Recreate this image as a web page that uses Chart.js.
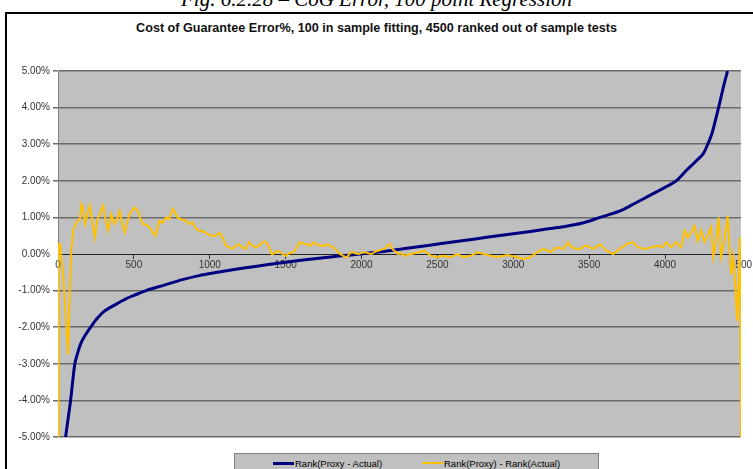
<!DOCTYPE html>
<html><head><meta charset="utf-8">
<script src="https://cdn.jsdelivr.net/npm/chart.js@4.4.0/dist/chart.umd.min.js"></script>
<style>
html,body{margin:0;padding:0;background:#fff;width:753px;height:469px;overflow:hidden;position:relative;font-family:"Liberation Sans",Arial,sans-serif;}
#caption{position:absolute;left:0;width:753px;top:-13px;text-align:center;font-family:"Liberation Serif","Times New Roman",serif;font-style:italic;font-size:21px;line-height:24px;color:#000;white-space:nowrap;}
#frame{position:absolute;left:5px;top:12px;width:770px;height:470px;border:2px solid #000;box-sizing:border-box;}
#title{position:absolute;left:0;width:753px;top:21px;text-align:center;font-weight:bold;font-size:12.6px;color:#111;white-space:nowrap;}
#wrap{position:absolute;left:0;top:0;width:753px;height:469px;}
#legend{position:absolute;left:234px;top:453px;width:363px;height:22px;background:#c0c0c0;border:1px solid #808080;font-size:9.5px;color:#000;}
.sw{position:absolute;height:3px;top:8px;width:21px}
.lt{position:absolute;top:4px;white-space:nowrap;}
</style>
</head>
<body>
<div id="frame"></div>
<div id="caption">Fig. 6.2.28 – CoG Error, 100 point Regression</div>
<div id="title">Cost of Guarantee Error%, 100 in sample fitting, 4500 ranked out of sample tests</div>
<div id="wrap"><canvas id="c" width="753" height="469"></canvas></div>
<div id="legend">
  <div class="sw" style="left:38px;background:#000080;"></div><div class="lt" style="left:60px;">Rank(Proxy - Actual)</div>
  <div class="sw" style="left:187px;background:#FFC000;height:2px;"></div><div class="lt" style="left:209px;">Rank(Proxy) - Rank(Actual)</div>
</div>
<script>
// Series 1: Rank(Proxy - Actual), error % vs rank
const navyX = [50,60,70,83,95,111,130,150,175,215,250,300,384,450,520,580,700,820,930,1050,1150,1300,1450,1600,1750,1870,1990,2150,2300,2450,2600,2750,2900,3050,3200,3350,3450,3572,3700,3800,3900,4000,4074,4140,4200,4250,4282,4310,4335,4353,4370,4390,4412];
const navyY = [-5.0,-4.7,-4.4,-4.0,-3.55,-3.0,-2.7,-2.45,-2.25,-2.0,-1.8,-1.58,-1.37,-1.22,-1.1,-1.0,-0.85,-0.7,-0.59,-0.5,-0.43,-0.34,-0.25,-0.17,-0.1,-0.05,0.0,0.07,0.16,0.24,0.33,0.41,0.5,0.58,0.67,0.76,0.84,1.0,1.17,1.38,1.6,1.82,2.0,2.28,2.52,2.73,3.0,3.3,3.7,4.0,4.3,4.65,5.0];
// Series 2: Rank(Proxy) - Rank(Actual)
const goldX = [0,3,13,35,55,66,75,85,100,125,144,155,166,177,195,210,225,242,260,275,297,315,330,351,373,390,406,425,439,455,471,490,504,526,545,559,580,603,620,642,655,668,690,712,735,755,770,788,810,843,865,886,908,930,955,984,1010,1039,1060,1072,1090,1105,1130,1149,1170,1192,1215,1236,1258,1280,1301,1323,1345,1367,1390,1411,1432,1455,1480,1500,1525,1553,1575,1596,1620,1640,1662,1684,1705,1727,1750,1771,1793,1815,1836,1858,1880,1902,1920,1935,1958,1979,2000,2022,2044,2066,2088,2109,2131,2153,2170,2186,2205,2218,2240,2262,2283,2305,2327,2350,2371,2393,2415,2436,2458,2480,2502,2525,2546,2568,2589,2611,2633,2655,2677,2700,2721,2742,2764,2786,2808,2830,2852,2873,2895,2917,2939,2961,2983,3005,3026,3048,3070,3092,3114,3135,3157,3180,3201,3223,3245,3266,3288,3310,3332,3360,3380,3398,3420,3440,3462,3484,3506,3528,3550,3571,3593,3615,3637,3659,3680,3702,3724,3746,3768,3790,3806,3823,3845,3866,3888,3910,3932,3954,3970,3986,4008,4025,4041,4058,4074,4090,4107,4129,4150,4172,4194,4216,4238,4260,4281,4303,4319,4336,4354,4369,4391,4413,4435,4450,4465,4475,4485,4493,4500];
const goldY = [-5.0,0.27,0.27,-0.6,-2.0,-2.75,-1.5,0.0,0.64,0.9,0.95,1.36,1.25,0.82,1.1,1.32,0.9,0.45,0.95,1.09,1.32,0.9,0.64,1.09,0.82,0.95,1.18,0.8,0.59,0.85,1.09,1.2,1.27,1.18,0.95,0.82,0.8,0.73,0.62,0.5,0.7,0.91,0.85,1.0,0.95,1.23,1.15,1.0,0.95,0.91,0.82,0.86,0.7,0.64,0.62,0.55,0.5,0.5,0.58,0.55,0.4,0.23,0.18,0.14,0.22,0.27,0.18,0.14,0.33,0.23,0.18,0.22,0.32,0.34,0.2,-0.02,0.05,0.09,0.0,-0.05,0.02,0.05,0.2,0.32,0.28,0.27,0.22,0.32,0.26,0.23,0.22,0.27,0.22,0.18,0.1,0.0,-0.05,-0.09,0.0,0.05,0.02,0.0,0.03,0.05,0.02,0.0,0.06,0.09,0.12,0.14,0.22,0.27,0.12,0.09,0.0,0.02,-0.05,-0.02,0.0,0.02,0.05,0.07,0.09,0.02,-0.05,-0.07,-0.09,-0.06,-0.05,-0.08,-0.09,-0.04,0.0,-0.05,-0.09,-0.06,-0.05,0.0,0.05,0.02,0.0,-0.03,-0.05,-0.07,-0.09,-0.07,-0.05,-0.03,-0.05,-0.07,-0.09,-0.11,-0.14,-0.11,-0.09,-0.02,0.05,0.1,0.14,0.1,0.05,0.12,0.18,0.16,0.14,0.32,0.2,0.16,0.14,0.14,0.2,0.23,0.18,0.14,0.2,0.27,0.18,0.09,0.04,0.0,0.07,0.14,0.2,0.27,0.3,0.32,0.25,0.18,0.16,0.14,0.16,0.18,0.2,0.23,0.2,0.18,0.32,0.25,0.18,0.25,0.32,0.25,0.18,0.64,0.45,0.59,0.77,0.36,0.64,0.32,0.5,0.73,-0.09,0.36,1.0,-0.09,0.36,1.05,-0.55,-0.09,-1.0,-1.82,-0.73,0.45,-5.0];
const xTickStep = 500;
const yTickStep = 1;

const pts = (xs, ys) => xs.map((x, i) => ({x: x, y: ys[i]}));

const bgPlugin = {
  id: 'plotBg',
  beforeDraw(chart) {
    const {ctx, chartArea: a} = chart;
    ctx.save();
    ctx.fillStyle = '#c0c0c0';
    ctx.fillRect(a.left, a.top, a.right - a.left, a.bottom - a.top);
    ctx.restore();
  }
};

new Chart(document.getElementById('c'), {
  type: 'line',
  data: {
    datasets: [
      {label: 'Rank(Proxy) - Rank(Actual)', data: pts(goldX, goldY), borderColor: '#FFC000', borderWidth: 2, pointRadius: 0, tension: 0, fill: false},
      {label: 'Rank(Proxy - Actual)', data: pts(navyX, navyY), borderColor: '#000080', borderWidth: 3, pointRadius: 0, tension: 0.3, fill: false}
    ]
  },
  options: {
    responsive: false,
    animation: false,
    layout: {padding: {left: 0, right: 8, top: 71, bottom: 32}},
    plugins: {legend: {display: false}, title: {display: false}, tooltip: {enabled: false}},
    scales: {
      x: {
        type: 'linear', min: 0, max: 4500, position: {y: 0},
        ticks: {stepSize: xTickStep, autoSkip: false, maxRotation: 0, color: '#333', font: {family: 'Liberation Sans', size: 10}, padding: 1,
          callback: v => String(v)},
        grid: {drawOnChartArea: false, drawTicks: true, tickLength: 4, color: '#333'},
        border: {color: '#222', width: 1}
      },
      y: {
        min: -5, max: 5,
        ticks: {stepSize: yTickStep, color: '#333', font: {family: 'Liberation Sans', size: 10}, padding: 3,
          callback: v => v.toFixed(2) + '%'},
        grid: {color: ctx => (ctx.tick && ctx.tick.value === 0) ? 'rgba(0,0,0,0)' : '#6a6a6a', lineWidth: 1.5, tickLength: 5},
        border: {color: '#808080', width: 1},
        afterFit: s => { s.width = 58; }
      }
    }
  },
  plugins: [bgPlugin]
});
</script>
</body></html>
